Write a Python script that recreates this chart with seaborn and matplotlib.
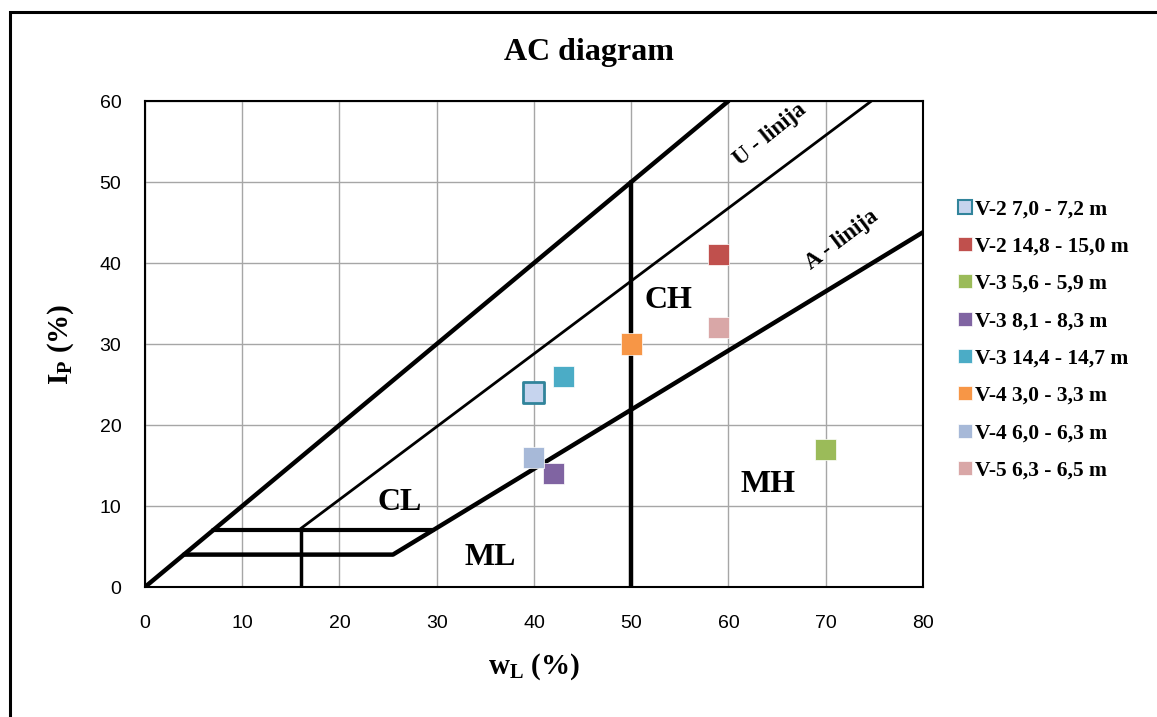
import matplotlib
matplotlib.use("Agg")
import matplotlib.pyplot as plt
from matplotlib.patches import Rectangle
import seaborn as sns
import pandas as pd

# sample data
labels = ["V-2 7,0 - 7,2 m", "V-2 14,8 - 15,0 m", "V-3 5,6 - 5,9 m", "V-3 8,1 - 8,3 m",
          "V-3 14,4 - 14,7 m", "V-4 3,0 - 3,3 m", "V-4 6,0 - 6,3 m", "V-5 6,3 - 6,5 m"]
wl = [40, 59, 70, 42, 43, 50, 40, 59]
ip = [24, 41, 17, 14, 26, 30, 16, 32]
colors = ["#C6D4EE", "#C0504D", "#9BBB59", "#8064A2", "#4BACC6", "#F79646", "#A7B9D8", "#D9A7A7"]

# chart boundary lines
upper_x = [0, 60]
upper_y = [0, 60]
u_x = [16, 74.7]
u_y = [7.2, 60]
a_x = [4, 25.5, 80]
a_y = [4, 4, 43.8]
h7_x = [7, 29.6]
h7_y = [7, 7]
v16_x = [16, 16]
v16_y = [0, 7]
v50_x = [50, 50]
v50_y = [0, 50]

sns.set_theme(style="whitegrid")
plt.rcParams["mathtext.fontset"] = "custom"
plt.rcParams["mathtext.rm"] = "Liberation Serif"
plt.rcParams["mathtext.bf"] = "Liberation Serif:bold"
plt.rcParams["text.color"] = "black"
plt.rcParams["axes.labelcolor"] = "black"
plt.rcParams["xtick.color"] = "black"
plt.rcParams["ytick.color"] = "black"
serif = "Liberation Serif"
sans = "Liberation Sans"

df = pd.DataFrame({"wL": wl, "IP": ip, "uzorak": labels})

fig = plt.figure(figsize=(11.57, 7.17), dpi=100)
ax = fig.add_axes([0.1253, 0.1813, 0.6724, 0.6778])

ax.plot(upper_x, upper_y, color="black", lw=3.2, zorder=2)
ax.plot(u_x, u_y, color="black", lw=2.0, zorder=2)
ax.plot(a_x, a_y, color="black", lw=3.2, zorder=2)
ax.plot(h7_x, h7_y, color="black", lw=3.0, zorder=2)
ax.plot(v16_x, v16_y, color="black", lw=2.5, zorder=2)
ax.plot(v50_x, v50_y, color="black", lw=3.2, zorder=2)

sns.scatterplot(data=df, x="wL", y="IP", hue="uzorak", palette=dict(zip(labels, colors)),
                marker="s", s=230, edgecolor="white", linewidth=0.5, ax=ax, zorder=3)
coll = ax.collections[-1]
ec = ["white"] * len(labels)
ec[0] = "#31849B"
coll.set_edgecolors(ec)
lws = [0.5] * len(labels)
lws[0] = 2
coll.set_linewidths(lws)

ax.set_xlim(0, 80)
ax.set_ylim(0, 60)
ax.set_xticks(range(0, 81, 10))
ax.set_yticks(range(0, 61, 10))
ax.grid(True, color="#A6A6A6", lw=1)
for s in ax.spines.values():
    s.set_color("black")
    s.set_linewidth(1.5)
ax.tick_params(length=0, labelsize=14)
ax.tick_params(axis="x", pad=20)
ax.tick_params(axis="y", pad=17)
for t in ax.get_xticklabels() + ax.get_yticklabels():
    t.set_fontfamily(sans)

ax.set_xlabel(r"$\mathbf{w_L}$ (%)", fontfamily=serif, fontweight="bold", fontsize=21, labelpad=14)
ax.set_ylabel(r"$\mathbf{I_P}$ (%)", fontfamily=serif, fontweight="bold", fontsize=21, labelpad=17)
fig.text(0.509, 0.927, "AC diagram", ha="center", va="center", fontfamily=serif,
         fontweight="bold", fontsize=23)

tk = dict(fontfamily=serif, fontweight="bold", ha="center", va="center")
ax.text(26.2, 10.4, "CL", fontsize=23, **tk)
ax.text(35.5, 3.6, "ML", fontsize=23, **tk)
ax.text(53.8, 35.4, "CH", fontsize=23, **tk)
ax.text(64.1, 12.6, "MH", fontsize=23, **tk)
ax.text(64.3, 55.8, "U - linija", fontsize=16.5, rotation=39, **tk)
ax.text(71.7, 42.8, "A - linija", fontsize=16.5, rotation=37, **tk)

leg = ax.legend(loc="upper left", bbox_to_anchor=(0.817, 0.734), bbox_transform=fig.transFigure,
                frameon=False, prop={"family": serif, "weight": "bold", "size": 15.5},
                labelspacing=0.80, handlelength=1.0, handletextpad=0.0,
                markerscale=0.62, borderaxespad=0)
for h in leg.legend_handles:
    h.set_markeredgecolor("white")
leg.legend_handles[0].set_markeredgecolor("#31849B")
leg.legend_handles[0].set_markeredgewidth(1.5)

fig.patches.append(Rectangle((0.0086, -0.05), 1.1, 1.033, transform=fig.transFigure,
                             fill=False, edgecolor="black", lw=2.2))

fig.savefig("out.png", dpi=100)
